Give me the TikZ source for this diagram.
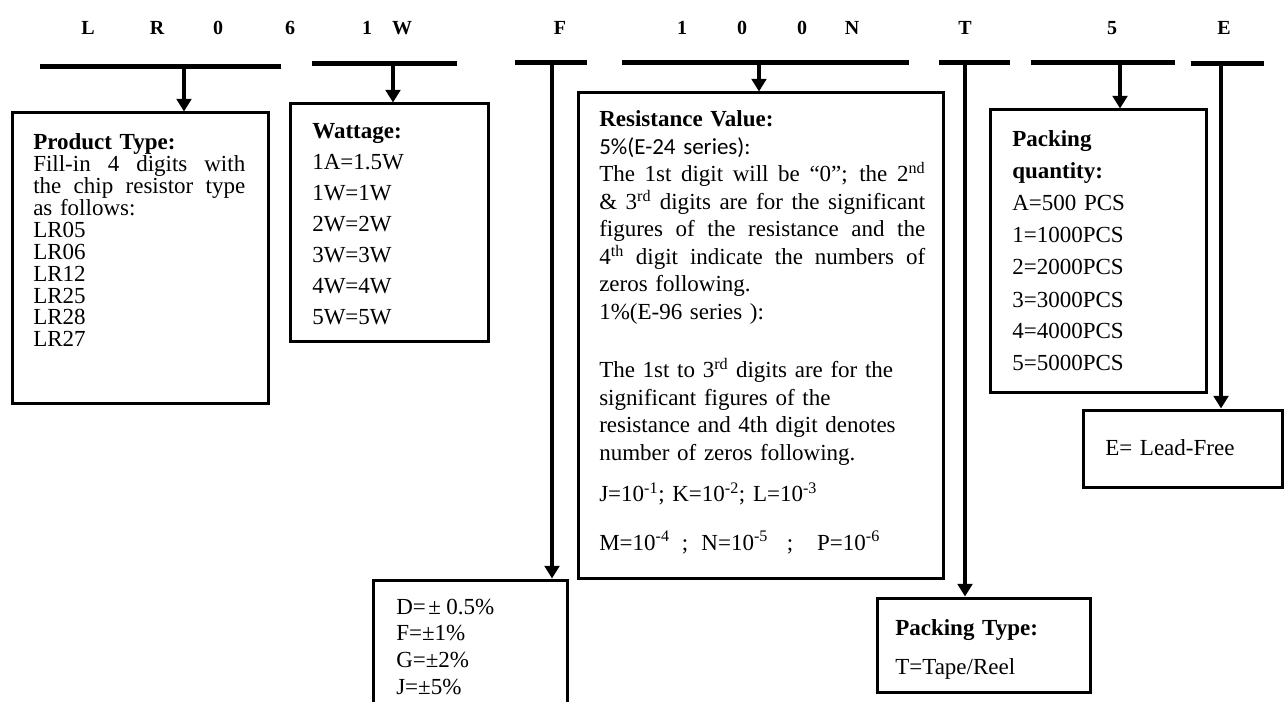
\documentclass[tikz,border=0pt]{standalone}
\usepackage{fontspec}
\setmainfont{Liberation Serif}
\newfontfamily\calfont{Carlito}
\usetikzlibrary{arrows.meta,fit}
\newcommand{\boxfont}[1]{\fontsize{17.25pt}{#1}\selectfont\lineskiplimit=-100pt}
\newcommand{\jline}[2]{\leavevmode\hbox to #1{\spaceskip=.25em plus 1fil\relax #2}}

\begin{document}
\begin{tikzpicture}[x=0.75pt,y=-0.75pt,
  bar/.style={line width=3.75pt},
  box/.style={draw,line width=2.25pt,inner sep=0pt},
  arr/.style={line width=2.4pt,-{Triangle[width=11pt,length=9.5pt]}},
  txt/.style={anchor=base west,inner sep=0pt,align=left},
  hdr/.style={anchor=base,inner sep=0pt,font=\fontsize{15pt}{18pt}\selectfont\bfseries}]
  \useasboundingbox (0,0) rectangle (1287,702);
  \foreach \ch/\x [count=\i] in {L/88,R/157,0/218,6/290,1/367,W/402,F/560,1/682,0/742,0/802,N/852,T/965,5/1112,E/1224}
    \node[hdr] (c\i) at (\x,35) {\ch};
  \foreach \l/\r/\y [count=\i] in {40/281/67,312/457/64,515/587/63,622/909/63,939/1010/63,1031/1175/63,1191/1264/64}{
    \coordinate (b\i l) at (\l,\y); \coordinate (b\i r) at (\r,\y); \draw[bar] (b\i l) -- (b\i r);}
  \coordinate (a1) at (184,67); \coordinate (a2) at (393,64); \coordinate (a3) at (552,63); \coordinate (a4) at (759,63);
  \coordinate (a5) at (965,63); \coordinate (a6) at (1120,63); \coordinate (a7) at (1221,64);

  \node[box,fit={(12,113)(268,403)}] (ptype) {};
  \node[box,fit={(290,104)(488,341)}] (watt) {};
  \node[box,fit={(578,93)(943,578)}] (resv) {};
  \node[box,fit={(373,580)(567,720)}] (tol) {};
  \node[box,fit={(990,110)(1206,392)}] (qty) {};
  \node[box,fit={(1083,410)(1282,487)}] (lead) {};
  \node[box,fit={(877,598)(1090,692)}] (ptyp) {};

  \draw[arr] (a1) -- (a1 |- ptype.north); \draw[arr] (a2) -- (a2 |- watt.north); \draw[arr] (a3) -- (a3 |- tol.north);
  \draw[arr] (a4) -- (a4 |- resv.north); \draw[arr] (a5) -- (a5 |- ptyp.north); \draw[arr] (a6) -- (a6 |- qty.north);
  \draw[arr] (a7) -- (a7 |- lead.north);

  \node[txt,text width=159pt,font={\boxfont{16.4pt}}] (ptype-t) at (33,150) {\textbf{Product Type:}\\
    \jline{159pt}{Fill-in 4 digits with}\\ \jline{159pt}{the chip resistor type}\\ as follows:\\ LR05\\ LR06\\ LR12\\ LR25\\ LR28\\ LR27};
  \node[txt,text width=140pt,font={\boxfont{23.25pt}}] (watt-t) at (312,139) {\textbf{Wattage:}\\
    1A=1.5W\\ 1W=1W\\ 2W=2W\\ 3W=3W\\ 4W=4W\\ 5W=5W};
  \node[txt,text width=244.5pt,font={\boxfont{20.625pt}}] (resv-t) at (599,127) {\textbf{Resistance Value:}\\
    {\calfont 5\%(E-24 series):}\\
    \jline{244.5pt}{The 1st digit will be “0”; the 2\textsuperscript{nd}}\\
    \jline{244.5pt}{\& 3\textsuperscript{rd} digits are for the significant}\\
    \jline{244.5pt}{figures of the resistance and the}\\
    \jline{244.5pt}{4\textsuperscript{th} digit indicate the numbers of}\\
    zeros following.\\ 1\%(E-96 series ):\\[23.25pt]
    The 1st to 3\textsuperscript{rd} digits are for the\\ significant figures of the\\
    resistance and 4th digit denotes\\ number of zeros following.\\[10.5pt]
    J=10\textsuperscript{-1}; K=10\textsuperscript{-2}; L=10\textsuperscript{-3}\\[15.4pt]
    M=10\textsuperscript{-4}\hspace{9pt};\hspace{10pt}N=10\textsuperscript{-5}\hspace{14pt};\hspace{18pt}P=10\textsuperscript{-6}};
  \node[txt,text width=130pt,font={\boxfont{20pt}}] (tol-t) at (396,614) {D=\hspace{2pt}±\hspace{4pt}0.5\%\\ F=±1\%\\ G=±2\%\\ J=±5\%};
  \node[txt,text width=150pt,font={\boxfont{24pt}}] (qty-t) at (1012,147) {\textbf{Packing}\\ \textbf{quantity:}\\
    A=500 PCS\\ 1=1000PCS\\ 2=2000PCS\\ 3=3000PCS\\ 4=4000PCS\\ 5=5000PCS};
  \node[txt,text width=140pt,font={\boxfont{17pt}}] (lead-t) at (1105,455) {E= Lead-Free};
  \node[txt,text width=150pt,font={\boxfont{29.25pt}}] (ptyp-t) at (895,635) {\textbf{Packing Type:}\\ T=Tape/Reel};
\end{tikzpicture}
\end{document}
